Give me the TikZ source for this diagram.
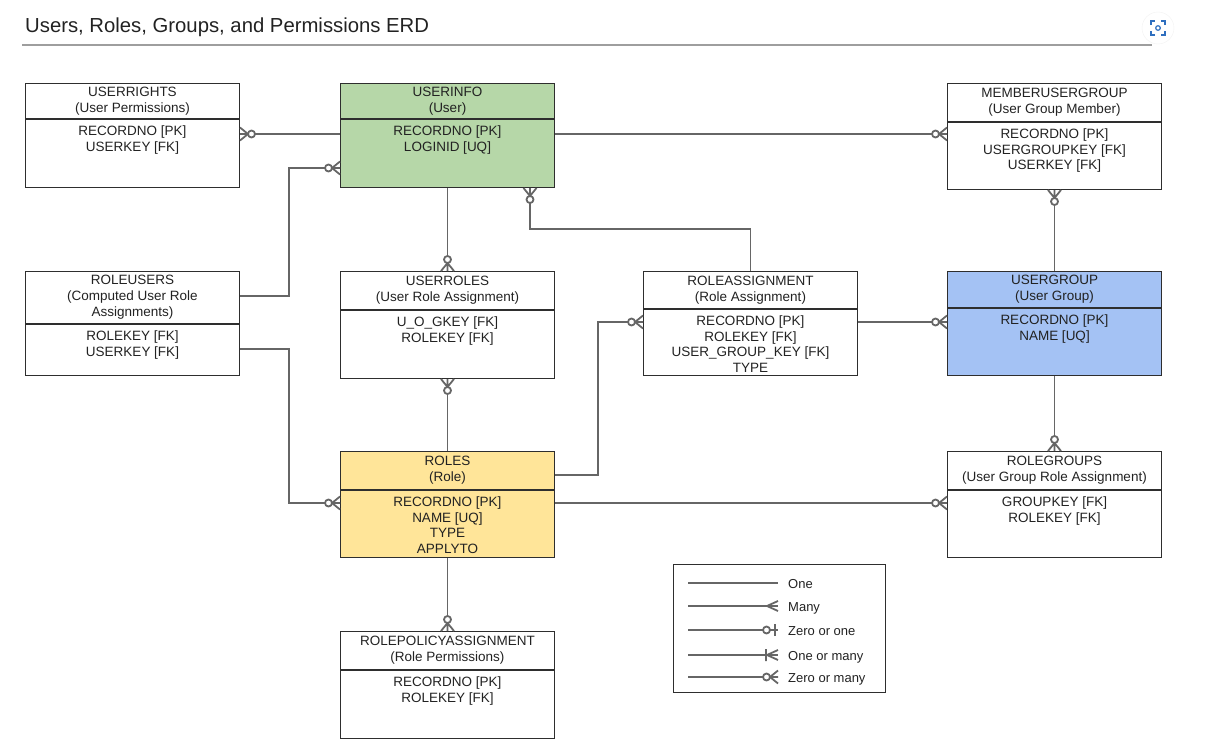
\documentclass[tikz,border=0pt]{standalone}
\usepackage{fontspec}
\setmainfont{Liberation Sans}
\usepackage{xcolor}
\usetikzlibrary{positioning,calc}

\definecolor{ugreen}{HTML}{B6D7A8}
\definecolor{ublue}{HTML}{A4C2F4}
\definecolor{uyellow}{HTML}{FFE599}
\definecolor{linec}{HTML}{666666}
\definecolor{boxc}{HTML}{2E2E2E}
\definecolor{txtc}{HTML}{222222}
\definecolor{iconc}{HTML}{2F6FBF}

\tikzset{
  link/.style={draw=linec, line width=1.8pt},
  % crow's foot ends, x points away from the entity
  zmany/.pic={\draw[link] (0,-6.5) -- (8,0) -- (0,6.5) (0,0) -- (8,0);
              \draw[link, fill=white] (11.5,0) circle (3.5pt);},
  many/.pic={\draw[link] (0,-5) -- (11,0) -- (0,5);},
  zone/.pic={\draw[link] (3,-6) -- (3,6);
             \draw[link, fill=white] (11.5,0) circle (3.5pt);},
  omany/.pic={\draw[link] (0,-5) -- (11,0) -- (0,5) (12,-6) -- (12,6);}
}

\begin{document}
\begin{tikzpicture}[x=1pt, y=-1pt,
    ehead/.style={draw=boxc, line width=1pt, anchor=north west, minimum width=214,
      align=center, inner sep=0pt, text=txtc, font=\fontsize{13.5}{16}\selectfont},
    ebody/.style={draw=boxc, line width=1pt, minimum width=214, inner sep=0pt},
    ekeys/.style={anchor=north, align=center, inner sep=2pt, yshift=-5pt,
      text=txtc, font=\fontsize{13.5}{15.5}\selectfont},
    ltext/.style={anchor=base west, inner sep=0pt, text=txtc, font=\fontsize{13}{15}\selectfont}]
  \useasboundingbox (0,0) rectangle (1211,739);

  % Title
  \node [anchor=west, inner sep=0pt, text=txtc, font=\fontsize{20.3}{23}\selectfont] (title) at (25,27)
    {Users, Roles, Groups, and Permissions ERD};
  \draw [draw=black!38, line width=2pt] (22,45) -- (1152,45);
  \node [circle, fill=white, draw=black!5, minimum size=32pt, inner sep=0pt] (focus) at (1158,28) {};
  \draw [iconc, line width=1.3pt] (1151,25) -- (1151,21) -- (1155,21) (1161,21) -- (1165,21) -- (1165,25)
    (1165,31) -- (1165,35) -- (1161,35) (1155,35) -- (1151,35) -- (1151,31);
  \draw [iconc, line width=1.2pt] (focus) circle (2.3pt);

  % Entities
  \node [ehead, minimum height=35] (urights) at (25,83) {USERRIGHTS\\(User Permissions)};
  \node [ebody, minimum height=68, below=0pt of urights,
    label={[ekeys]north:{RECORDNO [PK]\\USERKEY [FK]}}] (urights_b) {};

  \node [ehead, minimum height=35, fill=ugreen] (uinfo) at (340,83) {USERINFO\\(User)};
  \node [ebody, minimum height=68, fill=ugreen, below=0pt of uinfo,
    label={[ekeys]north:{RECORDNO [PK]\\LOGINID [UQ]}}] (uinfo_b) {};

  \node [ehead, minimum height=38] (mug) at (947,83) {MEMBERUSERGROUP\\(User Group Member)};
  \node [ebody, minimum height=67, below=0pt of mug,
    label={[ekeys]north:{RECORDNO [PK]\\USERGROUPKEY [FK]\\USERKEY [FK]}}] (mug_b) {};

  \node [ehead, minimum height=52] (rusers) at (25,271) {ROLEUSERS\\(Computed User Role\\Assignments)};
  \node [ebody, minimum height=51, below=0pt of rusers,
    label={[ekeys]north:{ROLEKEY [FK]\\USERKEY [FK]}}] (rusers_b) {};

  \node [ehead, minimum height=38] (uroles) at (340,271) {USERROLES\\(User Role Assignment)};
  \node [ebody, minimum height=68, below=0pt of uroles,
    label={[ekeys]north:{U\_O\_GKEY [FK]\\ROLEKEY [FK]}}] (uroles_b) {};

  \node [ehead, minimum height=37] (rassign) at (643,271) {ROLEASSIGNMENT\\(Role Assignment)};
  \node [ebody, minimum height=66, below=0pt of rassign,
    label={[ekeys]north:{RECORDNO [PK]\\ROLEKEY [FK]\\USER\_GROUP\_KEY [FK]\\TYPE}}] (rassign_b) {};

  \node [ehead, minimum height=36, fill=ublue] (ugroup) at (947,271) {USERGROUP\\(User Group)};
  \node [ebody, minimum height=67, fill=ublue, below=0pt of ugroup,
    label={[ekeys]north:{RECORDNO [PK]\\NAME [UQ]}}] (ugroup_b) {};

  \node [ehead, minimum height=38, fill=uyellow] (roles) at (340,451) {ROLES\\(Role)};
  \node [ebody, minimum height=67, fill=uyellow, below=0pt of roles,
    label={[ekeys]north:{RECORDNO [PK]\\NAME [UQ]\\TYPE\\APPLYTO}}] (roles_b) {};

  \node [ehead, minimum height=38] (rgroups) at (947,451) {ROLEGROUPS\\(User Group Role Assignment)};
  \node [ebody, minimum height=67, below=0pt of rgroups,
    label={[ekeys]north:{GROUPKEY [FK]\\ROLEKEY [FK]}}] (rgroups_b) {};

  \node [ehead, minimum height=38] (rpa) at (340,631) {ROLEPOLICYASSIGNMENT\\(Role Permissions)};
  \node [ebody, minimum height=68, below=0pt of rpa,
    label={[ekeys]north:{RECORDNO [PK]\\ROLEKEY [FK]}}] (rpa_b) {};

  % Relations
  \draw [link] (urights_b.east |- 0,134) -- (uinfo_b.west |- 0,134);
  \pic at (urights_b.east |- 0,134) {zmany};

  \draw [link] (uinfo_b.west |- 0,168) -- (289,168) -- (289,296) -- (rusers.east |- 0,296);
  \pic [rotate=180] at (uinfo_b.west |- 0,168) {zmany};

  \draw [link] (uinfo_b.east |- 0,134) -- (mug_b.west |- 0,134);
  \pic [rotate=180] at (mug_b.west |- 0,134) {zmany};

  \draw [link] (uinfo_b.south) -- (uroles.north);
  \pic [rotate=90] at (uroles.north) {zmany};

  \draw [link] (uinfo_b.south -| 530,0) |- (rassign.north |- 0,229) -- (rassign.north);
  \pic [rotate=-90] at (uinfo_b.south -| 530,0) {zmany};

  \draw [link] (mug_b.south) -- (ugroup.north);
  \pic [rotate=-90] at (mug_b.south) {zmany};

  \draw [link] (rassign_b.east |- 0,322) -- (ugroup_b.west |- 0,322);
  \pic [rotate=180] at (ugroup_b.west |- 0,322) {zmany};

  \draw [link] (ugroup_b.south) -- (rgroups.north);
  \pic [rotate=90] at (rgroups.north) {zmany};

  \draw [link] (uroles_b.south) -- (roles.north);
  \pic [rotate=-90] at (uroles_b.south) {zmany};

  \draw [link] (roles.east |- 0,475) -| (598,322) -- (rassign_b.west |- 0,322);
  \pic [rotate=180] at (rassign_b.west |- 0,322) {zmany};

  \draw [link] (rusers_b.east |- 0,349) -| (289,503) -- (roles_b.west |- 0,503);
  \pic [rotate=180] at (roles_b.west |- 0,503) {zmany};

  \draw [link] (roles_b.east |- 0,503) -- (rgroups_b.west |- 0,503);
  \pic [rotate=180] at (rgroups_b.west |- 0,503) {zmany};

  \draw [link] (roles_b.south) -- (rpa.north);
  \pic [rotate=90] at (rpa.north) {zmany};

  % Legend
  \node [draw=boxc, line width=1pt, anchor=north west, minimum width=212, minimum height=128,
    inner sep=0pt] (legend) at (673,564) {};
  \draw [link] (688,583) -- (778,583);
  \node [ltext] (lg1) at (788,588) {One};
  \draw [link] (688,606) -- (778,606);
  \pic [rotate=180] at (778,606) {many};
  \node [ltext] (lg2) at (788,611) {Many};
  \draw [link] (688,630) -- (778,630);
  \pic [rotate=180] at (778,630) {zone};
  \node [ltext] (lg3) at (788,635) {Zero or one};
  \draw [link] (688,655) -- (778,655);
  \pic [rotate=180] at (778,655) {omany};
  \node [ltext] (lg4) at (788,660) {One or many};
  \draw [link] (688,677) -- (778,677);
  \pic [rotate=180] at (778,677) {zmany};
  \node [ltext] (lg5) at (788,682) {Zero or many};
\end{tikzpicture}
\end{document}
